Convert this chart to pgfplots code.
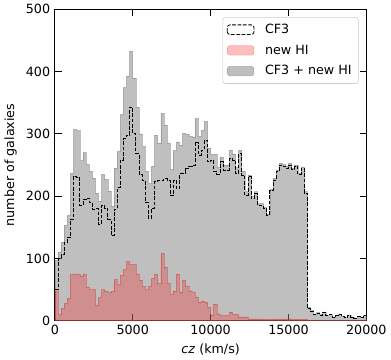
\documentclass[border=0pt]{standalone}
\usepackage{pgfplots}
\pgfplotsset{compat=1.18}
\usepackage{pgfplotstable}
\usepackage{fontspec}
\setmainfont{DejaVu Sans}

% bin left edge, CF3, new HI, CF3 + new HI
\pgfplotstableread{
x c h g
0 50 47 97
200 100 10 110
400 106 20 126
600 125 28 153
800 133 36 169
1000 163 74 237
1200 232 75 307
1400 230 75 305
1600 185 72 257
1800 195 75 270
2000 197 54 251
2200 190 50 240
2400 179 50 229
2600 180 25 205
2800 155 37 192
3000 185 50 235
3200 180 47 227
3400 163 45 208
3600 137 47 184
3800 179 66 245
4000 214 58 272
4200 258 73 331
4400 292 82 374
4600 298 95 393
4800 343 90 433
5000 300 90 390
5200 268 75 343
5400 235 65 300
5600 225 55 280
5800 190 50 240
6000 165 55 220
6200 180 68 248
6400 223 75 298
6600 225 60 285
6800 225 108 333
7000 228 86 314
7200 225 60 285
7400 201 42 243
7600 225 48 273
7800 212 75 287
8000 236 46 282
8200 236 65 301
8400 244 55 299
8600 248 48 296
8800 250 45 295
9000 287 38 325
9200 266 30 296
9400 274 32 306
9600 290 30 320
9800 255 22 277
10000 258 9 267
10200 240 27 267
10400 235 11 246
10600 255 8 263
10800 242 8 250
11000 242 8 250
11200 260 14 274
11400 258 10 268
11600 236 10 246
11800 268 6 274
12000 234 6 240
12200 201 6 207
12400 231 3 234
12600 196 3 199
12800 204 3 207
13000 185 3 188
13200 185 3 188
13400 180 2 182
13600 169 2 171
13800 209 2 211
14000 226 3 229
14200 239 3 242
14400 250 3 253
14600 248 3 251
14800 245 3 248
15000 250 3 253
15200 243 2 245
15400 248 2 250
15600 235 2 237
15800 245 2 247
16000 205 2 207
16200 20 1 21
16400 15 1 16
16600 10 1 11
16800 12 1 13
17000 9 1 10
17200 14 0 14
17400 8 0 8
17600 10 0 10
17800 6 0 6
18000 8 0 8
18200 10 0 10
18400 7 0 7
18600 5 0 5
18800 8 0 8
19000 6 0 6
19200 4 0 4
19400 7 0 7
19600 5 0 5
19800 8 0 8
20000 8 0 8
}\histdata

\begin{document}
\begin{tikzpicture}
\begin{axis}[
  width=233pt, height=233pt, scale only axis,
  xmin=0, xmax=20000, ymin=0, ymax=500,
  xtick={0,5000,10000,15000,20000},
  ytick={0,100,200,300,400,500},
  tick align=inside,
  major tick length=5pt,
  scaled x ticks=false,
  /pgf/number format/1000 sep={},
  /pgf/number format/assume math mode=true,
  tick label style={font=\fontsize{9.5}{11}\selectfont},
  label style={font=\fontsize{9.5}{11}\selectfont},
  axis line style={line width=0.6pt},
  major tick style={line width=0.6pt, black},
  xlabel={\textit{cz} (km/s)},
  ylabel={number of galaxies},
  legend style={at={(0.975,0.975)}, anchor=north east,
    draw=black!20, rounded corners=2pt, fill=white, fill opacity=0.8, text opacity=1,
    font=\fontsize{9.5}{11}\selectfont, row sep=3pt, inner sep=3pt},
  legend cell align=left,
  legend image code/.code={\draw[#1] (0pt,-3.6pt) rectangle (20pt,3.6pt); \path (26pt,0pt);},
]
\addplot[const plot, draw=gray, draw opacity=0.5, fill=gray, fill opacity=0.5, forget plot]
  table[x=x, y=g]{\histdata} \closedcycle;
\addplot[const plot, draw=red!85!black, draw opacity=0.3, fill=red, fill opacity=0.25, forget plot]
  table[x=x, y=h]{\histdata} \closedcycle;
\addplot[const plot, black, line width=0.6pt, dash pattern=on 2.8pt off 1.2pt, forget plot]
  table[x=x, y=c]{\histdata};

\addlegendimage{black, line width=0.6pt, dash pattern=on 2.8pt off 1.2pt}
\addlegendentry{CF3}
\addlegendimage{draw=red, draw opacity=0.25, fill=red, fill opacity=0.25}
\addlegendentry{new HI}
\addlegendimage{draw=gray, draw opacity=0.5, fill=gray, fill opacity=0.5}
\addlegendentry{CF3 + new HI}
\end{axis}
\end{tikzpicture}
\end{document}
